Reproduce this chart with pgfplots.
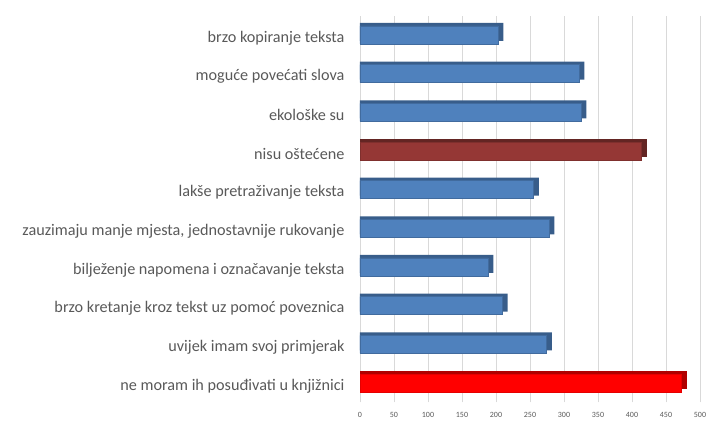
\documentclass[border=0pt]{standalone}
\usepackage{pgfplots}
\pgfplotsset{compat=1.18}
\usepackage{fontspec}
\setmainfont{Carlito}
\definecolor{barblue}{HTML}{4F81BD}
\definecolor{barbluedark}{HTML}{385D8A}
\definecolor{bardred}{HTML}{953735}
\definecolor{bardreddark}{HTML}{632523}
\definecolor{barred}{HTML}{FF0000}
\definecolor{barreddark}{HTML}{B00000}
\definecolor{txtgray}{HTML}{595959}
\begin{document}
\begin{tikzpicture}
\begin{axis}[
  at={(0,0)}, anchor=south west,
  scale only axis, width=340pt, height=386.7pt,
  xbar, bar width=18pt,
  xmin=0, xmax=500, ymin=-0.5, ymax=9.5,
  xtick={0,50,...,500},
  ytick={0,...,9},
  yticklabels={ne moram ih posuđivati u knjižnici, uvijek imam svoj primjerak, brzo kretanje kroz tekst uz pomoć poveznica, bilježenje napomena i označavanje teksta, {zauzimaju manje mjesta, jednostavnije rukovanje}, lakše pretraživanje teksta, nisu oštećene, ekološke su, moguće povećati slova, brzo kopiranje teksta},
  yticklabel style={font=\fontsize{16.2}{18}\selectfont, text=txtgray, xshift=-12pt, yshift=-3pt},
  xticklabel style={font=\fontsize{8}{9}\selectfont, text=txtgray, yshift=-6pt},
  /pgf/number format/assume math mode=true,
  xmajorgrids, major grid style={draw=black!15, line width=0.8pt},
  axis line style={draw=none},
  major tick length=0pt,
]
% depth faces
\addplot[fill=barbluedark, draw=none, bar shift=3pt] coordinates {(282,1) (217,2) (196,3) (286,4) (263,5) (333,7) (330,8) (211,9)};
\addplot[fill=bardreddark, draw=none, bar shift=3pt] coordinates {(422,6)};
\addplot[fill=barreddark, draw=none, bar shift=3pt] coordinates {(481,0)};
% front faces
\addplot[fill=barblue, draw=barbluedark!60!barblue, bar shift=0pt] coordinates {(274,1) (209,2) (188,3) (278,4) (255,5) (325,7) (322,8) (203,9)};
\addplot[fill=bardred, draw=bardred!85!black, bar shift=0pt] coordinates {(414,6)};
\addplot[fill=barred, draw=barred!90!black, bar shift=0pt] coordinates {(473,0)};
\end{axis}
\pgfresetboundingbox
\path (-360pt,-22.7pt) rectangle (349pt,402.3pt);
\end{tikzpicture}
\end{document}
